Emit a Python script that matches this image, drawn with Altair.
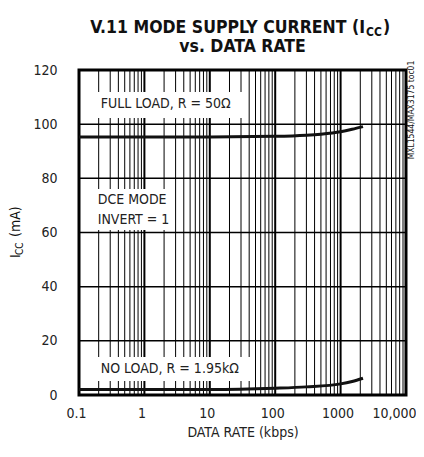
import altair as alt
import pandas as pd

# Data
rate_full = [0.1, 1, 10, 100, 300, 500, 1000, 1500, 2200]
icc_full = [95.3, 95.3, 95.3, 95.5, 95.9, 96.3, 97.2, 98.1, 99.1]
rate_none = [0.1, 1, 10, 100, 300, 1000, 1500, 2200]
icc_none = [2.0, 2.0, 2.0, 2.5, 3.0, 4.1, 5.0, 6.2]

x_ticks = [0.1, 1, 10, 100, 1000, 10000]
x_labels = ["0.1", "1", "10", "100", "1000", "10,000"]
y_ticks = [0, 20, 40, 60, 80, 100, 120]
minor_x = [k * 10.0 ** d for d in range(-1, 4) for k in range(2, 10)]
major_x = [1, 10, 100, 1000]
grid_y = [20, 40, 60, 80, 100]

FONT = "'DejaVu Sans Condensed', 'Liberation Sans Narrow', 'Liberation Sans', sans-serif"
W, H = 327, 325

xs = alt.Scale(type="log", domain=[0.1, 10000], nice=False)
ys = alt.Scale(domain=[0, 120], nice=False)

base = alt.Chart(pd.DataFrame({"r": [0.1]}))

axes = base.mark_point(opacity=0).encode(
    x=alt.X("r:Q", scale=xs, axis=alt.Axis(
        values=x_ticks, grid=False, ticks=False, tickSize=0, domain=False,
        labelFont=FONT, labelFontSize=14, labelColor="#222", labelPadding=11,
        labelExpr="datum.value >= 9999 ? '10,000' : datum.value >= 1 ? format(datum.value, 'd') : '0.1'",
        labelFlush=False,
        labelAlign={"condition": {"test": "datum.value >= 9999", "value": "right"}, "value": "center"},
        labelOffset={"condition": {"test": "datum.value >= 9999", "value": 10}, "value": -3},
        title="DATA RATE (kbps)", titleFont=FONT, titleFontSize=14,
        titleFontWeight="normal", titleColor="#222", titlePadding=5)),
    y=alt.Y("y:Q", scale=ys, axis=alt.Axis(
        values=y_ticks, grid=False, ticks=False, tickSize=0, domain=False,
        labelFont=FONT, labelFontSize=14, labelColor="#222", labelPadding=22,
        title=None)),
).transform_calculate(y="0")

minor = alt.Chart(pd.DataFrame({"x": minor_x})).mark_rule(
    color="black", strokeWidth=1).encode(x=alt.X("x:Q", scale=xs))
major = alt.Chart(pd.DataFrame({"x": major_x})).mark_rule(
    color="black", strokeWidth=2).encode(x=alt.X("x:Q", scale=xs))
hgrid = alt.Chart(pd.DataFrame({"y": grid_y})).mark_rule(
    color="black", strokeWidth=1.5).encode(y=alt.Y("y:Q", scale=ys))

boxes_df = pd.DataFrame({
    "x": [0.158, 0.176, 0.176], "x2": [37.1, 2.74, 49.1],
    "y": [111.9, 76.1, 14.0], "y2": [102.3, 60.9, 5.2]})
boxes = alt.Chart(boxes_df).mark_rect(color="white").encode(
    x=alt.X("x:Q", scale=xs), x2="x2:Q",
    y=alt.Y("y:Q", scale=ys), y2="y2:Q")

curves_df = pd.concat([
    pd.DataFrame({"rate": rate_full, "icc": icc_full, "s": "full"}),
    pd.DataFrame({"rate": rate_none, "icc": icc_none, "s": "none"})])
curves = alt.Chart(curves_df).mark_line(
    color="#111", strokeWidth=3, interpolate="monotone").encode(
    x=alt.X("rate:Q", scale=xs), y=alt.Y("icc:Q", scale=ys), detail="s:N")

notes_df = pd.DataFrame({
    "x": [0.215, 0.193, 0.193, 0.215],
    "y": [107.3, 72.0, 64.6, 9.6],
    "t": ["FULL LOAD, R = 50Ω", "DCE MODE", "INVERT = 1", "NO LOAD, R = 1.95kΩ"]})
notes = alt.Chart(notes_df).mark_text(
    font=FONT, fontSize=14, align="left", baseline="middle", color="#222").encode(
    x=alt.X("x:Q", scale=xs), y=alt.Y("y:Q", scale=ys), text="t:N")

def txt(t, x, y, size, weight="normal", align="center", angle=0, dx=0):
    return alt.Chart(pd.DataFrame({"t": [t]})).mark_text(
        font=FONT, fontSize=size, fontWeight=weight, align=align,
        baseline="middle", angle=angle, color="#111", dx=dx).encode(
        x=alt.value(x), y=alt.value(y), text="t:N")

title = (
    txt("V.11 MODE SUPPLY CURRENT (I", 286, -42, 17.5, "bold", "right")
    + txt("CC", 287, -38, 12, "bold", "left")
    + txt(")", 304, -42, 17.5, "bold", "left")
    + txt("vs. DATA RATE", 163.5, -23, 17.5, "bold", "center")
)
ylab = (
    txt("I", -63, 188, 14, "normal", "left", 270)
    + txt("CC", -59, 185, 10, "normal", "left", 270)
    + txt("(mA)", -63, 167, 14, "normal", "left", 270)
)
side = txt("MXL1544/MAX3175 toc01", 332, 40, 8.5, "normal", "center", 270)

chart = alt.layer(
    axes, minor, major, hgrid, boxes, curves, notes, title, ylab, side
).properties(
    width=W, height=H, autosize="none",
    padding={"left": 71, "top": 62, "right": 10, "bottom": 54},
).configure_view(stroke="black", strokeWidth=3)

chart.save("out.html", embed_options={"renderer": "svg", "actions": False})
